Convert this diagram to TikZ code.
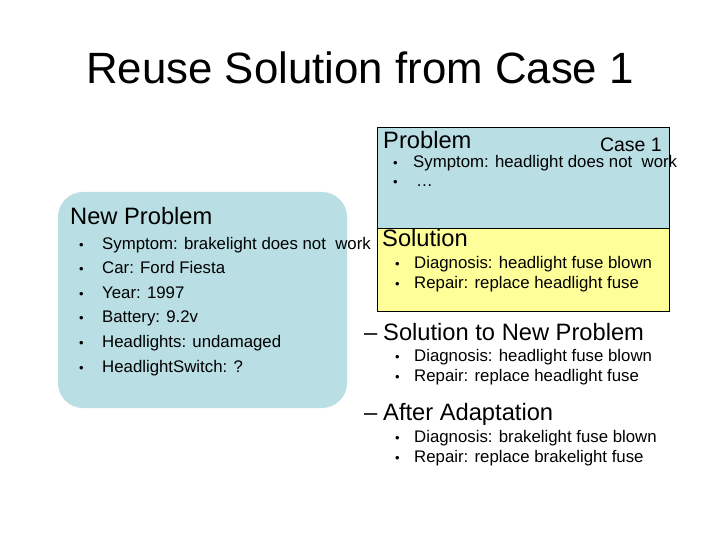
\documentclass[tikz,border=0pt]{standalone}
\usepackage{fontspec}
\setmainfont{Liberation Sans}
\usepackage{xcolor}
\definecolor{caseblue}{RGB}{185,222,228}
\definecolor{caseyellow}{RGB}{255,255,153}
\tikzset{
    txt/.style={anchor=base west,inner sep=0pt},
    head/.style={txt,font=\fontsize{23.7}{28}\selectfont},
    item/.style={txt,font=\fontsize{16.8}{20}\selectfont},
    dot/.style={txt,font=\fontsize{13}{15}\selectfont},
}
\begin{document}
\begin{tikzpicture}[x=1pt,y=-1pt]
            \useasboundingbox (0,0) rectangle (720,540);
            \fill[white] (0,0) rectangle (720,540);

            % title
            \node[anchor=base,inner sep=0pt,font=\fontsize{43.8}{50}\selectfont] (title) at (360,84) {Reuse Solution from Case 1};

            % new problem
            \fill[caseblue,rounded corners=25] (58,192) rectangle (347,408);
            \node[head] (newprob) at (70,225) {New Problem};
            \foreach \t [count=\i] in {Symptom: brakelight does not\ \ work,Car: Ford Fiesta,Year: 1997,Battery: 9.2v,Headlights: undamaged,HeadlightSwitch: ?}{
                \node[dot] at (79,224.5+\i*24.6) {\textbullet};
                \node[item] (np\i) at (102,224.5+\i*24.6) {\t};
            }

            % case 1
            \draw[fill=caseblue,line width=0.8pt] (377,127) rectangle (669,228);
            \draw[fill=caseyellow,line width=0.8pt] (377,228) rectangle (669,311);
            \node[head] (prob) at (383,149) {Problem};
            \node[anchor=base east,inner sep=0pt,font=\fontsize{19.5}{23}\selectfont] (case) at (662,152) {Case 1};
            \node[dot] at (393,168) {\textbullet};
            \node[item] (p1) at (413,168) {Symptom: headlight does not\ \ work};
            \node[dot] at (393,187) {\textbullet};
            \node[item] (p2) at (416,187) {\dots};

            \node[head] (sol) at (382,246) {Solution};
            \node[dot] at (395,268) {\textbullet};
            \node[item] (s1) at (414,268) {Diagnosis: headlight fuse blown};
            \node[dot] at (395,288) {\textbullet};
            \node[item] (s2) at (414,288) {Repair: replace headlight fuse};

            % solution to new problem
            \node[head] (dash1) at (364,340) {--};
            \node[head] (newsol) at (383,340) {Solution to New Problem};
            \node[dot] at (395,361) {\textbullet};
            \node[item] (n1) at (414,361) {Diagnosis: headlight fuse blown};
            \node[dot] at (395,381) {\textbullet};
            \node[item] (n2) at (414,381) {Repair: replace headlight fuse};

            % after adaptation
            \node[head] (dash2) at (364,420) {--};
            \node[head] (adapt) at (383,420) {After Adaptation};
            \node[dot] at (395,442) {\textbullet};
            \node[item] (a1) at (414,442) {Diagnosis: brakelight fuse blown};
            \node[dot] at (395,462) {\textbullet};
            \node[item] (a2) at (414,462) {Repair: replace brakelight fuse};

        \end{tikzpicture}
\end{document}
